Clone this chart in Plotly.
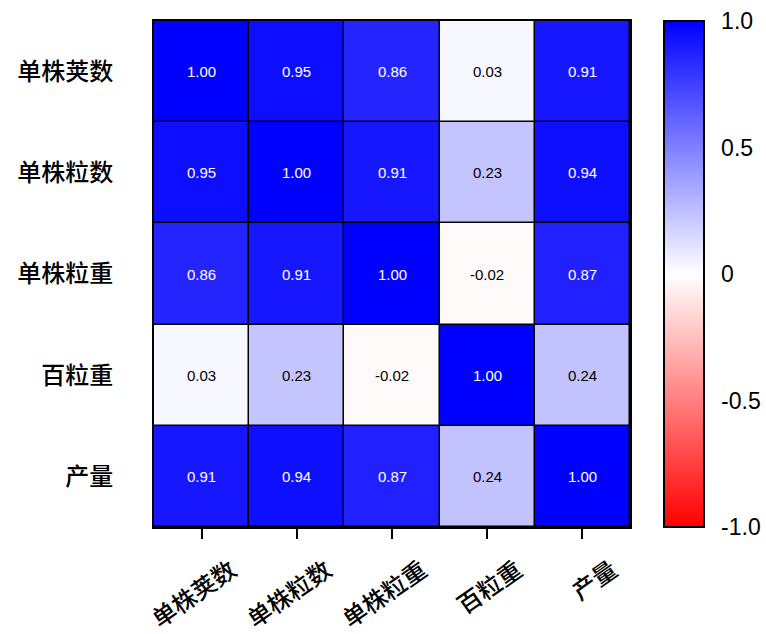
import plotly.graph_objects as go

# Trait names (row/column order, top to bottom / left to right)
traits = ["单株荚数", "单株粒数", "单株粒重", "百粒重", "产量"]

# Pearson correlation matrix between traits
corr = [
    [1.00, 0.95, 0.86, 0.03, 0.91],
    [0.95, 1.00, 0.91, 0.23, 0.94],
    [0.86, 0.91, 1.00, -0.02, 0.87],
    [0.03, 0.23, -0.02, 1.00, 0.24],
    [0.91, 0.94, 0.87, 0.24, 1.00],
]

cbar_tickvals = [1.0, 0.5, 0, -0.5, -1.0]
cbar_ticktext = ["1.0", "0.5", "0", "-0.5", "-1.0"]

colorscale = [[0.0, "#ff0000"], [0.5, "#ffffff"], [1.0, "#0000ff"]]

fig = go.Figure()
fig.add_trace(go.Heatmap(
    z=corr, x=traits, y=traits,
    zmin=-1, zmax=1, colorscale=colorscale,
    xgap=1.5, ygap=1.5,
    showscale=True,
    colorbar=dict(
        x=1.071, xanchor="left", xref="paper",
        y=0.5, yanchor="middle", len=1.0, lenmode="fraction",
        thickness=40, outlinecolor="black", outlinewidth=2,
        tickvals=cbar_tickvals, ticktext=cbar_ticktext,
        ticks="outside", ticklen=12, tickcolor="rgba(0,0,0,0)",
        tickfont=dict(family="Liberation Sans, Arial", size=23, color="black"),
        xpad=0, ypad=0,
    ),
    hoverinfo="skip",
))

# Value labels in each cell
for i, row in enumerate(corr):
    for j, v in enumerate(row):
        fig.add_annotation(
            x=traits[j], y=traits[i], text=f"{v:.2f}", showarrow=False,
            font=dict(family="Liberation Sans, Arial", size=15,
                      color="white" if abs(v) > 0.5 else "black"),
        )

label_font = dict(family="Noto Sans CJK SC", size=24, color="black", weight=500)

fig.update_xaxes(
    showline=True, linecolor="black", linewidth=2, mirror=True,
    ticks="outside", ticklen=10, tickwidth=2, tickcolor="black",
    tickangle=-35, showgrid=False, zeroline=False,
    ticklabelshift=30, ticklabelstandoff=8,
    tickfont=label_font,
)
fig.update_yaxes(
    autorange="reversed",
    showline=True, linecolor="black", linewidth=2, mirror=True,
    ticks="", showgrid=False, zeroline=False, ticklabelstandoff=34,
    tickfont=label_font,
)

fig.update_layout(
    width=766, height=634,
    margin=dict(l=154, r=136, t=21, b=107, autoexpand=False),
    plot_bgcolor="black", paper_bgcolor="white",
    showlegend=False,
)

fig.write_html("out.html")
